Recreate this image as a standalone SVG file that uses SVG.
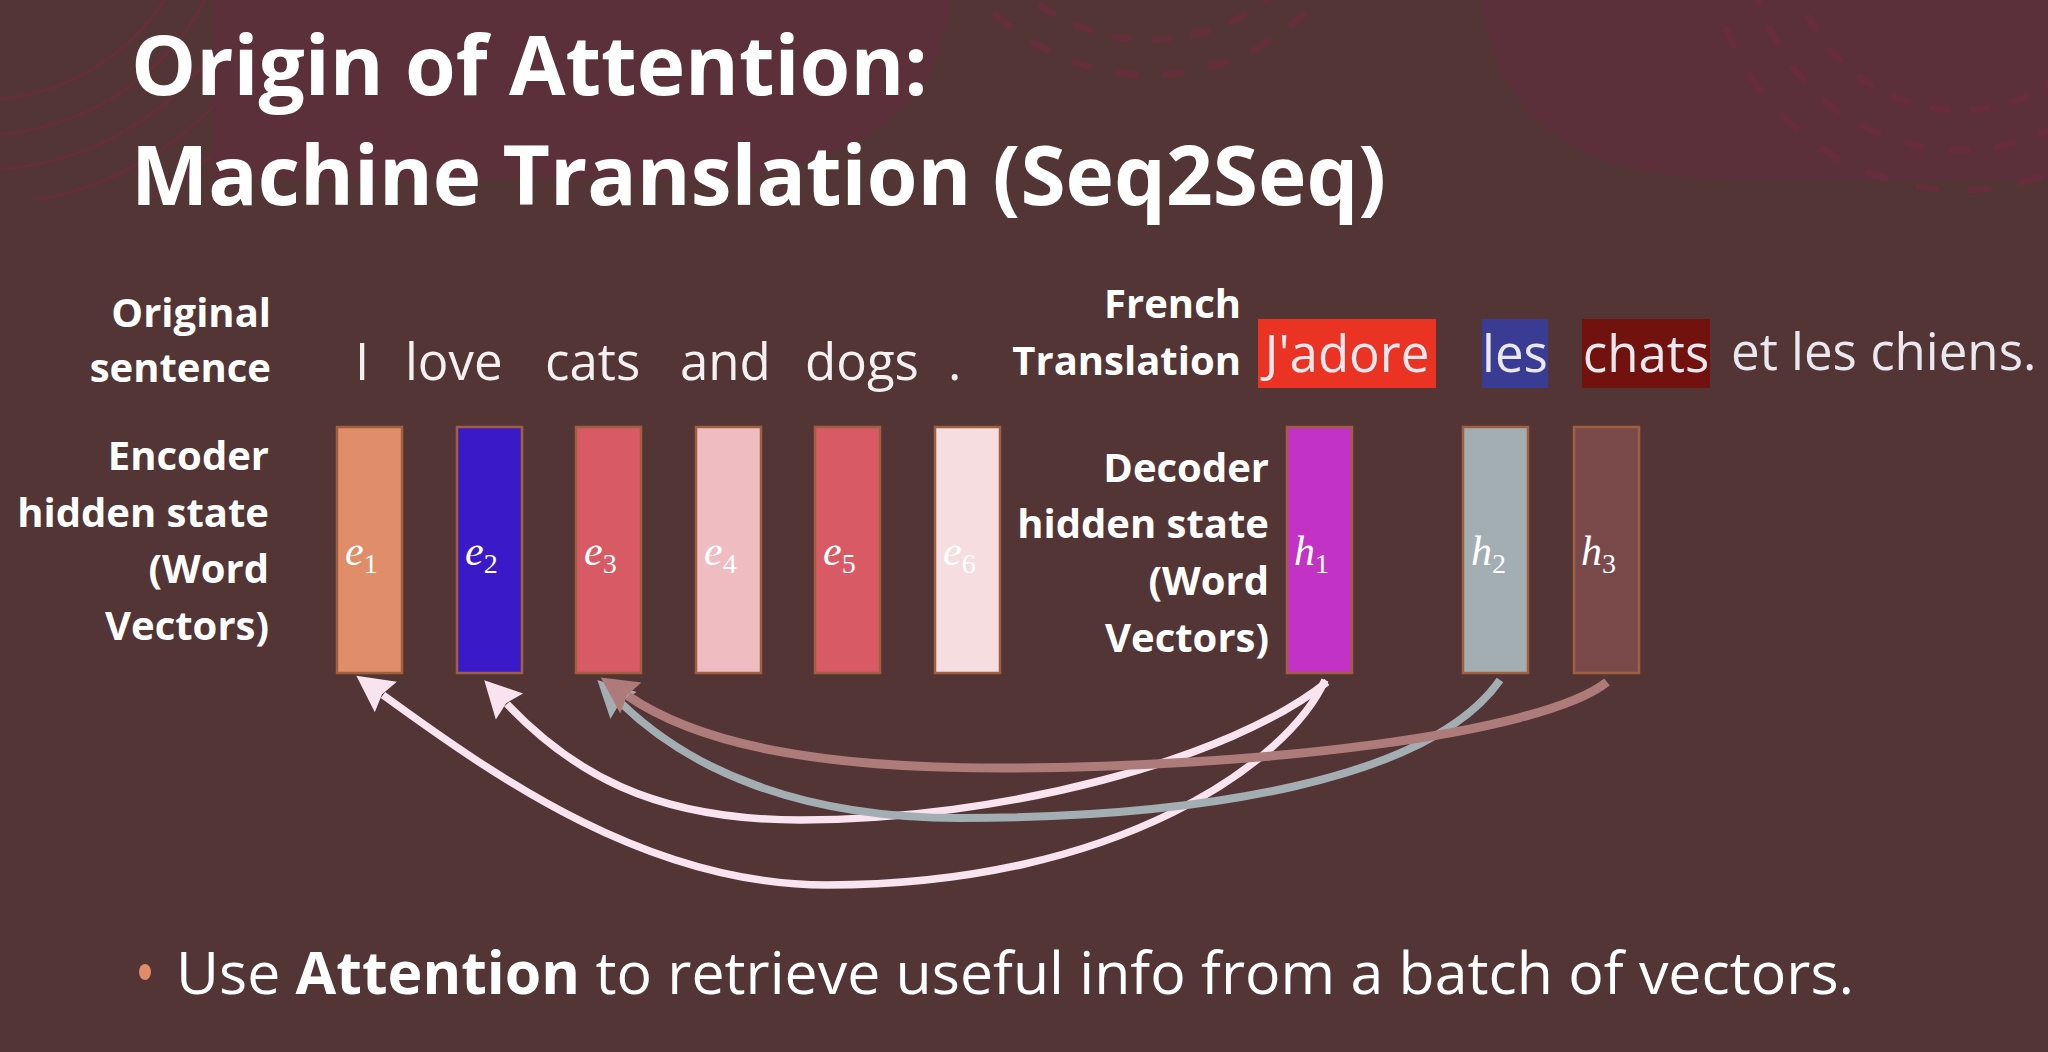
<svg xmlns="http://www.w3.org/2000/svg" width="2048" height="1052" viewBox="0 0 2048 1052">
  <defs>
    <style>
      .title { font-family: "Open Sans", "Noto Sans", sans-serif; font-weight: 700; font-size: 82px; fill: #ffffff; }
      .lbl { font-family: "Open Sans", "Noto Sans", sans-serif; font-weight: 700; font-size: 40px; fill: #ffffff; text-anchor: end; }
      .word { font-family: "Open Sans", "Noto Sans", sans-serif; font-size: 51px; fill: #f4f0f0; }
      .fr { font-family: "Open Sans", "Noto Sans", sans-serif; font-size: 51px; fill: #e8e8ee; }
      .frc { text-anchor: middle; }
      .vec { stroke: #a0603f; stroke-width: 2.5; }
      .math { font-family: "Liberation Serif", "DejaVu Serif", serif; font-style: italic; font-size: 42px; fill: #ffffff; }
      .sub { font-style: normal; font-size: 28px; }
      .deco-arc { fill: none; stroke: #6c2c3d; stroke-width: 3; opacity: 0.7; }
      .deco-tick { fill: none; stroke: #6c2c3d; stroke-width: 7; opacity: 0.7; stroke-linecap: round; }
      .link { fill: none; stroke-linecap: butt; }
      .bullet { font-family: "Open Sans", "Noto Sans", sans-serif; font-size: 59px; fill: #ffffff; }
    </style>
    <marker id="head-pink" markerUnits="userSpaceOnUse" markerWidth="40" markerHeight="40" viewBox="0 -17 34 34" refX="3" refY="0" orient="auto">
      <path d="M0,-16 L31,0 L0,16 L4,0 Z" fill="#f8e3ee"/>
    </marker>
    <marker id="head-grey" markerUnits="userSpaceOnUse" markerWidth="40" markerHeight="40" viewBox="0 -17 34 34" refX="3" refY="0" orient="auto">
      <path d="M0,-16 L31,0 L0,16 L4,0 Z" fill="#a3aeb3"/>
    </marker>
    <marker id="head-rose" markerUnits="userSpaceOnUse" markerWidth="40" markerHeight="40" viewBox="0 -17 34 34" refX="3" refY="0" orient="auto">
      <path d="M0,-16 L31,0 L0,16 L4,0 Z" fill="#ad7b7a"/>
    </marker>
    <clipPath id="left-arcs">
      <rect x="0" y="0" width="212" height="200"/>
    </clipPath>
  </defs>

  <!-- slide background -->
  <rect x="0" y="0" width="2048" height="1052" fill="#533535"/>

  <!-- faint decorative backdrop at the top of the slide -->
  <g id="backdrop">
    <path d="M212,0 L212,178 L700,178 Q935,165 950,0 Z" fill="#5c303a"/>
    <path d="M1482,0 Q1500,172 1720,180 L2048,180 L2048,0 Z" fill="#5b303a"/>
    <g clip-path="url(#left-arcs)">
      <circle class="deco-arc" cx="-20" cy="-120" r="220"/>
      <circle class="deco-arc" cx="-20" cy="-120" r="255"/>
      <circle class="deco-arc" cx="-20" cy="-120" r="290"/>
      <circle class="deco-arc" cx="-20" cy="-120" r="325"/>
      <circle class="deco-arc" cx="-20" cy="-120" r="360"/>
    </g>
    <circle class="deco-tick" cx="1150" cy="-150" r="190" stroke-dasharray="14 26"/>
    <circle class="deco-tick" cx="1150" cy="-150" r="225" stroke-dasharray="16 30"/>
    <circle class="deco-tick" cx="1960" cy="-60" r="170" stroke-dasharray="14 26"/>
    <circle class="deco-tick" cx="1960" cy="-60" r="210" stroke-dasharray="16 30"/>
    <circle class="deco-tick" cx="1960" cy="-60" r="250" stroke-dasharray="18 34"/>
  </g>

  <!-- title -->
  <g id="title">
    <text class="title" x="131" y="95">Origin of Attention:</text>
    <text class="title" x="131" y="205">Machine Translation (Seq2Seq)</text>
  </g>

  <!-- row labels -->
  <g id="label-original">
    <text class="lbl" x="271" y="327">Original</text>
    <text class="lbl" x="271" y="382">sentence</text>
  </g>
  <g id="label-encoder">
    <text class="lbl" x="269" y="470">Encoder</text>
    <text class="lbl" x="269" y="527">hidden state</text>
    <text class="lbl" x="269" y="583">(Word</text>
    <text class="lbl" x="269" y="640">Vectors)</text>
  </g>
  <g id="label-french">
    <text class="lbl" x="1241" y="318">French</text>
    <text class="lbl" x="1241" y="375">Translation</text>
  </g>
  <g id="label-decoder">
    <text class="lbl" x="1269" y="482">Decoder</text>
    <text class="lbl" x="1269" y="538">hidden state</text>
    <text class="lbl" x="1269" y="595">(Word</text>
    <text class="lbl" x="1269" y="652">Vectors)</text>
  </g>

  <!-- source sentence -->
  <g id="sentence-en">
    <text class="word" x="355" y="380">I</text>
    <text class="word" x="405" y="380">love</text>
    <text class="word" x="545" y="380">cats</text>
    <text class="word" x="680" y="380">and</text>
    <text class="word" x="805" y="380">dogs</text>
    <text class="word" x="948" y="380">.</text>
  </g>

  <!-- translated sentence with highlighted words -->
  <g id="sentence-fr">
    <rect x="1258" y="319" width="178" height="69" fill="#ea3323"/>
    <rect x="1482" y="319" width="66" height="69" fill="#3a3c94"/>
    <rect x="1582" y="319" width="128" height="69" fill="#72120f"/>
    <text class="fr frc" x="1347" y="372">J'adore</text>
    <text class="fr frc" x="1515" y="372">les</text>
    <text class="fr frc" x="1646" y="372">chats</text>
    <text class="fr" x="1731" y="370">et les chiens.</text>
  </g>

  <!-- encoder hidden states -->
  <g id="e1">
    <rect class="vec" x="337" y="427" width="65" height="246" fill="#e08d6a"/>
    <text class="math" x="345" y="565">e<tspan class="sub" dy="8">1</tspan></text>
  </g>
  <g id="e2">
    <rect class="vec" x="457" y="427" width="65" height="246" fill="#3a1ac8"/>
    <text class="math" x="465" y="565">e<tspan class="sub" dy="8">2</tspan></text>
  </g>
  <g id="e3">
    <rect class="vec" x="576" y="427" width="65" height="246" fill="#d85a65"/>
    <text class="math" x="584" y="565">e<tspan class="sub" dy="8">3</tspan></text>
  </g>
  <g id="e4">
    <rect class="vec" x="696" y="427" width="65" height="246" fill="#eebcc1"/>
    <text class="math" x="704" y="565">e<tspan class="sub" dy="8">4</tspan></text>
  </g>
  <g id="e5">
    <rect class="vec" x="815" y="427" width="65" height="246" fill="#d85a65"/>
    <text class="math" x="823" y="565">e<tspan class="sub" dy="8">5</tspan></text>
  </g>
  <g id="e6">
    <rect class="vec" x="935" y="427" width="65" height="246" fill="#f5dde0"/>
    <text class="math" x="943" y="565">e<tspan class="sub" dy="8">6</tspan></text>
  </g>

  <!-- decoder hidden states -->
  <g id="h1">
    <rect class="vec" x="1287" y="427" width="65" height="246" fill="#c232c4"/>
    <text class="math" x="1294" y="565">h<tspan class="sub" dy="8">1</tspan></text>
  </g>
  <g id="h2">
    <rect class="vec" x="1463" y="427" width="65" height="246" fill="#a3aeb3"/>
    <text class="math" x="1471" y="565">h<tspan class="sub" dy="8">2</tspan></text>
  </g>
  <g id="h3">
    <rect class="vec" x="1574" y="427" width="65" height="246" fill="#7a4a4b"/>
    <text class="math" x="1581" y="565">h<tspan class="sub" dy="8">3</tspan></text>
  </g>

  <!-- attention links from decoder states back to encoder states -->
  <g id="connectors">
    <path class="link" d="M1325,680 C1290,760 1120,885 827,885 C650,885 500,780 383,695" stroke="#f8e3ee" stroke-width="7.5" marker-end="url(#head-pink)"/>
    <path class="link" d="M1327,682 C1230,760 1000,820 800,820 C650,820 570,770 507,704" stroke="#f8e3ee" stroke-width="7.5" marker-end="url(#head-pink)"/>
    <path class="link" d="M1500,680 C1430,780 1200,818 960,818 C800,818 690,770 621,703" stroke="#a3aeb3" stroke-width="8" marker-end="url(#head-grey)"/>
    <path class="link" d="M1607,682 C1540,735 1250,768 1000,768 C820,768 700,745 628,696" stroke="#ad7b7a" stroke-width="9" marker-end="url(#head-rose)"/>
  </g>

  <!-- take-away bullet -->
  <g id="bullet">
    <ellipse cx="145" cy="972" rx="6" ry="8" fill="#e08d6a"/>
    <text class="bullet" x="176" y="994">Use <tspan font-weight="700">Attention</tspan> to retrieve useful info from a batch of vectors.</text>
  </g>
</svg>
